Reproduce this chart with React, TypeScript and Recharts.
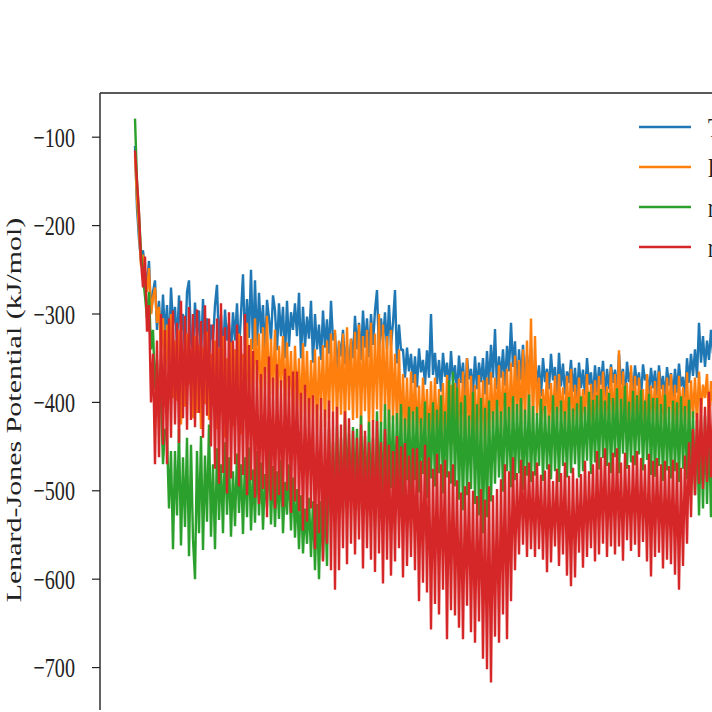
import React from 'react';
import { LineChart, Line, XAxis, YAxis, ReferenceLine, Legend } from 'recharts';

// Lennard-Jones energy per frame (kJ/mol)
const BLUE = [
  -110, -180, -215, -240, -228, -252, -265, -240, -300, -275,
  -262, -318, -285, -330, -278, -325, -290, -342, -270, -312,
  -292, -335, -279, -320, -300, -345, -275, -262, -330, -341,
  -287, -325, -296, -348, -283, -338, -305, -352, -312, -330,
  -290, -267, -338, -301, -352, -295, -330, -310, -346, -298,
  -330, -288, -345, -300, -255, -336, -283, -327, -250, -340,
  -262, -336, -276, -322, -290, -348, -284, -305, -330, -279,
  -296, -341, -288, -325, -292, -350, -285, -337, -298, -318,
  -288, -325, -276, -350, -292, -337, -303, -328, -285, -355,
  -300, -340, -312, -352, -296, -338, -306, -345, -285, -330,
  -322, -362, -331, -348, -318, -357, -335, -365, -328, -350,
  -302, -340, -310, -352, -296, -338, -305, -349, -300, -335,
  -296, -273, -345, -305, -331, -298, -340, -290, -336, -310,
  -273, -356, -312, -341, -340, -372, -338, -365, -345, -378,
  -348, -383, -339, -366, -352, -380, -341, -372, -300, -369,
  -344, -379, -352, -388, -344, -371, -355, -385, -342, -376,
  -358, -392, -347, -378, -355, -396, -350, -374, -362, -390,
  -348, -385, -355, -377, -350, -391, -342, -380, -335, -372,
  -317, -385, -348, -372, -340, -381, -336, -365, -310, -360,
  -331, -389, -340, -375, -335, -382, -346, -370, -338, -386,
  -352, -380, -358, -393, -350, -377, -362, -385, -345, -375,
  -360, -398, -344, -382, -356, -391, -365, -378, -352, -388,
  -361, -395, -355, -384, -363, -392, -350, -380, -366, -397,
  -358, -389, -360, -380, -353, -394, -362, -385, -357, -378,
  -363, -389, -345, -380, -362, -399, -354, -377, -365, -392,
  -358, -381, -366, -396, -357, -375, -369, -390, -361, -384,
  -364, -392, -358, -385, -370, -396, -360, -381, -367, -394,
  -362, -389, -356, -382, -371, -395, -350, -378, -345, -370,
  -340, -372, -310, -355, -325, -360, -330, -352, -318, -345,
];

const ORANGE = [
  -120, -170, -205, -245, -233, -262, -275, -248, -300, -282,
  -270, -310, -292, -340, -305, -380, -312, -365, -300, -395,
  -330, -398, -318, -425, -345, -405, -322, -380, -340, -418,
  -325, -412, -335, -430, -338, -402, -320, -420, -345, -398,
  -330, -430, -338, -412, -325, -440, -350, -418, -332, -427,
  -340, -415, -322, -436, -345, -420, -310, -402, -328, -395,
  -305, -378, -322, -410, -315, -385, -302, -400, -328, -392,
  -318, -402, -336, -385, -325, -410, -332, -394, -342, -418,
  -336, -405, -350, -422, -333, -411, -342, -425, -352, -414,
  -340, -432, -348, -409, -335, -428, -330, -418, -322, -410,
  -318, -425, -330, -414, -322, -432, -315, -409, -328, -420,
  -320, -418, -312, -426, -325, -410, -318, -433, -310, -422,
  -322, -408, -300, -426, -312, -410, -325, -433, -318, -420,
  -345, -428, -340, -436, -368, -440, -372, -446, -365, -432,
  -368, -438, -381, -446, -372, -432, -385, -450, -376, -441,
  -372, -445, -385, -438, -378, -452, -369, -440, -380, -447,
  -378, -448, -373, -435, -365, -452, -350, -444, -370, -455,
  -380, -446, -369, -438, -375, -452, -372, -441, -366, -430,
  -372, -425, -358, -436, -365, -421, -362, -432, -355, -428,
  -347, -420, -352, -433, -340, -425, -330, -418, -305, -428,
  -325, -415, -372, -428, -385, -419, -366, -431, -378, -422,
  -370, -426, -368, -418, -383, -433, -370, -424, -362, -429,
  -380, -422, -372, -431, -385, -418, -368, -427, -379, -433,
  -375, -420, -370, -430, -365, -424, -382, -419, -360, -428,
  -368, -422, -341, -430, -365, -421, -378, -436, -358, -425,
  -370, -432, -372, -418, -385, -437, -368, -426, -381, -420,
  -376, -430, -365, -425, -380, -436, -372, -419, -368, -428,
  -380, -433, -370, -421, -383, -429, -366, -435, -375, -418,
  -372, -425, -365, -412, -380, -395, -368, -420, -376, -405,
];

const GREEN = [
  -79, -150, -188, -230, -258, -280, -305, -275, -340, -318,
  -385, -352, -412, -395, -470, -430, -438, -520, -455, -566,
  -455, -528, -430, -562, -462, -541, -440, -574, -448, -555,
  -600, -455, -548, -438, -567, -460, -535, -425, -552, -470,
  -566, -452, -533, -470, -548, -445, -527, -462, -552, -478,
  -540, -458, -525, -470, -549, -462, -530, -451, -545, -476,
  -536, -455, -528, -468, -544, -481, -519, -450, -538, -472,
  -541, -478, -532, -465, -548, -490, -527, -470, -545, -485,
  -553, -498, -566, -505, -571, -520, -560, -508, -575, -512,
  -590, -515, -600, -512, -578, -505, -585, -430, -525, -445,
  -518, -425, -507, -440, -525, -418, -496, -435, -512, -428,
  -505, -430, -522, -415, -498, -438, -516, -422, -509, -440,
  -541, -410, -503, -422, -530, -402, -515, -408, -497, -415,
  -505, -412, -492, -402, -510, -418, -488, -405, -502, -410,
  -488, -405, -502, -418, -481, -399, -508, -412, -486, -400,
  -495, -408, -480, -392, -503, -410, -485, -375, -492, -365,
  -495, -383, -510, -400, -522, -392, -505, -415, -498, -388,
  -515, -402, -528, -395, -548, -406, -530, -398, -512, -410,
  -492, -397, -485, -410, -501, -389, -478, -405, -496, -393,
  -488, -402, -480, -395, -499, -408, -483, -391, -490, -404,
  -483, -412, -472, -396, -489, -404, -476, -415, -487, -392,
  -478, -405, -490, -398, -472, -410, -485, -394, -480, -407,
  -470, -401, -485, -393, -478, -405, -466, -388, -481, -397,
  -468, -392, -476, -385, -463, -398, -472, -389, -480, -395,
  -462, -384, -480, -396, -458, -381, -475, -399, -468, -387,
  -471, -392, -459, -386, -477, -398, -465, -390, -482, -395,
  -484, -395, -472, -402, -489, -391, -477, -405, -486, -398,
  -478, -400, -490, -393, -475, -404, -487, -397, -480, -410,
  -505, -420, -528, -430, -520, -415, -515, -425, -530, -435,
];

const RED = [
  -115, -150, -185, -240, -270, -235, -320, -290, -400, -345,
  -470, -330, -462, -300, -448, -318, -470, -305, -440, -296,
  -425, -310, -446, -285, -418, -302, -431, -292, -420, -300,
  -428, -295, -412, -308, -440, -290, -415, -305, -450, -312,
  -475, -305, -492, -288, -480, -315, -503, -298, -486, -330,
  -470, -312, -495, -325, -482, -300, -505, -335, -488, -342,
  -508, -352, -515, -368, -498, -360, -530, -348, -511, -372,
  -520, -357, -505, -375, -518, -362, -500, -370, -525, -365,
  -512, -365, -523, -389, -545, -380, -535, -395, -520, -392,
  -566, -402, -548, -395, -580, -408, -560, -398, -590, -410,
  -612, -405, -590, -425, -565, -410, -583, -418, -560, -432,
  -572, -440, -555, -425, -588, -432, -565, -445, -578, -420,
  -592, -421, -571, -445, -605, -430, -578, -448, -596, -455,
  -580, -438, -565, -450, -598, -446, -585, -460, -575, -452,
  -590, -452, -625, -466, -604, -448, -615, -462, -657, -475,
  -628, -458, -640, -470, -612, -465, -668, -478, -635, -470,
  -641, -488, -655, -502, -668, -495, -630, -490, -660, -500,
  -672, -506, -648, -498, -690, -510, -702, -495, -717, -505,
  -665, -498, -672, -487, -640, -470, -668, -478, -625, -462,
  -590, -480, -572, -465, -561, -472, -575, -468, -566, -478,
  -575, -468, -566, -482, -578, -477, -592, -470, -581, -489,
  -563, -475, -585, -480, -572, -468, -596, -483, -608, -474,
  -598, -486, -570, -481, -587, -466, -575, -478, -565, -470,
  -580, -455, -572, -462, -560, -452, -575, -468, -563, -457,
  -572, -452, -563, -468, -579, -457, -556, -471, -568, -460,
  -561, -455, -575, -463, -558, -470, -580, -458, -597, -466,
  -575, -463, -570, -470, -588, -466, -578, -472, -583, -465,
  -595, -468, -612, -474, -585, -460, -560, -445, -530, -430,
  -505, -412, -492, -395, -498, -405, -490, -388, -485, -400,
];

const SERIES_KEYS = ['blue', 'orange', 'green', 'red'];
const SERIES_NAMES = ['Template', 'Docked', 'relaxed', 'refined'];
const SERIES_COLORS = ['#1f77b4', '#ff7f0e', '#2ca02c', '#d62728'];
const Y_TICKS = [-700, -600, -500, -400, -300, -200, -100];
const Y_LABEL = 'Lenard-Jones Potential (kJ/mol)';

const rows = BLUE.map((v, i) => ({
  frame: i,
  blue: v,
  orange: ORANGE[i],
  green: GREEN[i],
  red: RED[i],
}));

const FONT = '"Liberation Serif", "Times New Roman", serif';
const SQUEEZE = 'scale(0.72,1)';

const YTick = ({ y, payload }: any) => (
  <g transform={`translate(75,${y}) ${SQUEEZE}`}>
    <text textAnchor="end" dy="0.34em" fontSize={28} fontFamily={FONT} fill="#222">
      {String(payload.value).replace('-', '\u2212')}
    </text>
  </g>
);

const YLabel = () => (
  <g transform={`translate(21,410) ${SQUEEZE} rotate(-90)`}>
    <text textAnchor="middle" fontSize={30} fontFamily={FONT} fill="#222">
      {Y_LABEL}
    </text>
  </g>
);

const LegendBox = () => (
  <svg width={712} height={270} style={{ display: 'block', overflow: 'hidden' }}>
    {SERIES_NAMES.map((name, i) => (
      <g key={name}>
        <line x1={639} x2={691} y1={127 + 40 * i} y2={127 + 40 * i} stroke={SERIES_COLORS[i]} strokeWidth={2.5} />
        <g transform={`translate(708,${127 + 40 * i}) ${SQUEEZE}`}>
          <text dy="0.34em" fontSize={28} fontFamily={FONT} fill="#222">{name}</text>
        </g>
      </g>
    ))}
  </svg>
);

export default function App() {
  return (
    <div style={{ position: 'fixed', left: 0, top: 0, width: 712, height: 712, overflow: 'hidden', background: '#fff' }}>
      <LineChart width={712} height={712} data={rows} margin={{ top: 93, right: 0, bottom: 2, left: 0 }}>
        <XAxis
          dataKey="frame"
          type="number"
          domain={[-17.5, 288.5]}
          allowDataOverflow
          height={0}
          tick={false}
          tickLine={false}
          axisLine={{ stroke: '#222', strokeWidth: 1.4 }}
        />
        <YAxis
          width={100}
          domain={[-748, -50]}
          allowDataOverflow
          ticks={Y_TICKS}
          interval={0}
          tickSize={8}
          tick={<YTick />}
          tickLine={{ stroke: '#222', strokeWidth: 1.2 }}
          axisLine={{ stroke: '#222', strokeWidth: 1.4 }}
          label={<YLabel />}
        />
        <ReferenceLine y={-50} stroke="#222" strokeWidth={1.4} />
        {SERIES_KEYS.map((k, i) => (
          <Line
            key={k}
            type="linear"
            dataKey={k}
            name={SERIES_NAMES[i]}
            stroke={SERIES_COLORS[i]}
            strokeWidth={2.4}
            strokeLinejoin="bevel"
            dot={false}
            isAnimationActive={false}
          />
        ))}
        <Legend
          layout="vertical"
          align="center"
          verticalAlign="middle"
          content={<LegendBox />}
          wrapperStyle={{ left: 0, top: 0, width: 712, height: 270, pointerEvents: 'none' }}
        />
      </LineChart>
    </div>
  );
}
